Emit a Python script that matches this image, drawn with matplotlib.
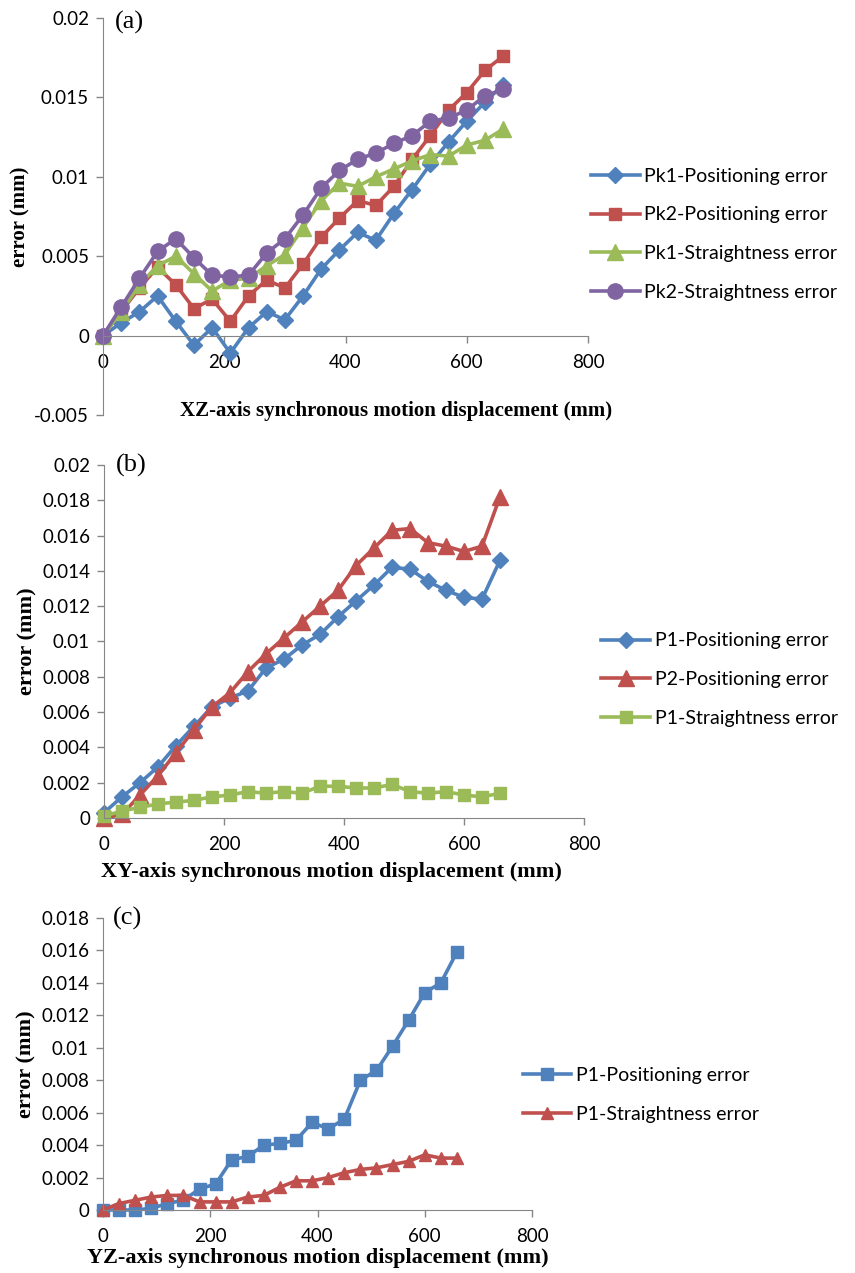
import matplotlib
matplotlib.use('Agg')
import matplotlib.pyplot as plt
from matplotlib.ticker import FixedLocator, FuncFormatter

# displacement steps (mm), shared by all three panels
disp = [0, 30, 60, 90, 120, 150, 180, 210, 240, 270, 300, 330,
        360, 390, 420, 450, 480, 510, 540, 570, 600, 630, 660]

# (a) XZ-axis
pk1_pos = [0, 0.0008, 0.0015, 0.0025, 0.0009, -0.0006, 0.0005, -0.0011, 0.0005, 0.0015, 0.001, 0.0025,
           0.0042, 0.0054, 0.0065, 0.006, 0.0077, 0.0092, 0.0108, 0.0122, 0.0135, 0.0147, 0.0158]
pk2_pos = [0, 0.0015, 0.003, 0.0043, 0.0032, 0.0017, 0.0023, 0.0009, 0.0025, 0.0035, 0.003, 0.0045,
           0.0062, 0.0074, 0.0085, 0.0082, 0.0094, 0.0111, 0.0126, 0.0142, 0.0153, 0.0167, 0.0176]
pk1_str = [0, 0.0015, 0.0032, 0.0044, 0.005, 0.0039, 0.0028, 0.0035, 0.0036, 0.0044, 0.0051, 0.0068,
           0.0085, 0.0096, 0.0094, 0.01, 0.0105, 0.011, 0.0114, 0.0113, 0.012, 0.0123, 0.013]
pk2_str = [0, 0.0018, 0.0036, 0.0053, 0.0061, 0.0049, 0.0038, 0.0037, 0.0038, 0.0052, 0.0061, 0.0076,
           0.0093, 0.0104, 0.0111, 0.0115, 0.0121, 0.0126, 0.0135, 0.0137, 0.0142, 0.0151, 0.0155]

# (b) XY-axis
xy_p1_pos = [0.0003, 0.0012, 0.002, 0.0029, 0.0041, 0.0052, 0.0063, 0.0068, 0.0072, 0.0085, 0.009, 0.0098,
             0.0104, 0.0114, 0.0123, 0.0132, 0.0142, 0.0141, 0.0134, 0.0129, 0.0125, 0.0124, 0.0146]
xy_p2_pos = [0, 0.0002, 0.0013, 0.0024, 0.0037, 0.005, 0.0063, 0.0071, 0.0083, 0.0093, 0.0102, 0.0111,
             0.012, 0.0129, 0.0143, 0.0153, 0.0163, 0.0164, 0.0156, 0.0154, 0.0151, 0.0154, 0.0182]
xy_p1_str = [0.0001, 0.0004, 0.0006, 0.0008, 0.0009, 0.001, 0.0012, 0.0013, 0.0015, 0.0014, 0.0015, 0.0014,
             0.0018, 0.0018, 0.0017, 0.0017, 0.0019, 0.0015, 0.0014, 0.0015, 0.0013, 0.0012, 0.0014]

# (c) YZ-axis
yz_p1_pos = [0, 0, 0, 0.0001, 0.0004, 0.0006, 0.0013, 0.0016, 0.0031, 0.0033, 0.004, 0.0041,
             0.0043, 0.0054, 0.005, 0.0056, 0.008, 0.0086, 0.0101, 0.0117, 0.0134, 0.014, 0.0159]
yz_p1_str = [0, 0.0004, 0.0006, 0.0008, 0.0009, 0.0009, 0.0005, 0.0005, 0.0005, 0.0008, 0.0009, 0.0014,
             0.0018, 0.0018, 0.002, 0.0023, 0.0025, 0.0026, 0.0028, 0.003, 0.0034, 0.0032, 0.0032]

BLUE = '#4F81BD'
RED = '#C0504D'
GREEN = '#9BBB59'
PURPLE = '#8064A2'
AXIS_GREY = '#868686'

SANS = 'Lato'
SERIF = 'Liberation Serif'
W, H = 855, 1273


def style_axes(ax, yticks, tag, tag_y, label_size):
    for s in ('top', 'right'):
        ax.spines[s].set_visible(False)
    ax.spines['left'].set_color(AXIS_GREY)
    ax.spines['bottom'].set_color(AXIS_GREY)
    ax.spines['bottom'].set_position(('data', 0))
    ax.set_xlim(0, 800)
    ax.set_ylim(yticks[0], yticks[-1])
    ax.xaxis.set_major_locator(FixedLocator([0, 200, 400, 600, 800]))
    ax.yaxis.set_major_locator(FixedLocator(yticks))
    ax.yaxis.set_major_formatter(FuncFormatter(lambda v, p: '%g' % round(v, 6)))
    ax.tick_params(axis='both', direction='out', length=5, width=1, color=AXIS_GREY, labelsize=13.5)
    ax.tick_params(axis='x', pad=8)
    ax.tick_params(axis='y', pad=5)
    for lab in ax.get_xticklabels() + ax.get_yticklabels():
        lab.set_fontfamily(SANS)
    ax.set_ylabel('error (mm)', fontfamily=SERIF, fontweight='bold', fontsize=label_size, labelpad=3)
    ax.text(0.024, tag_y, tag, transform=ax.transAxes, fontfamily=SERIF, fontsize=19,
            va='center', ha='left')


def series(ax, y, color, marker, ms, label):
    ax.plot(disp, y, color=color, lw=2.6, marker=marker, ms=ms, label=label, clip_on=False)


def legend(ax, x, y):
    ax.legend(loc='center left', bbox_to_anchor=(x, y), frameon=False,
              prop={'family': SANS, 'size': 14}, handlelength=2.5, labelspacing=1.12,
              handletextpad=0.25, borderaxespad=0)


def xlabel(text, cx, cy, size):
    fig.text(cx / W, 1 - cy / H, text, fontfamily=SERIF, fontweight='bold', fontsize=size,
             ha='center', va='center')


fig = plt.figure(figsize=(W / 100, H / 100), dpi=100)

# (a)
ax_a = fig.add_axes([103 / W, 1 - 415 / H, 485 / W, 397 / H])
series(ax_a, pk1_pos, BLUE, 'D', 8, 'Pk1-Positioning error')
series(ax_a, pk2_pos, RED, 's', 9, 'Pk2-Positioning error')
series(ax_a, pk1_str, GREEN, '^', 11, 'Pk1-Straightness error')
series(ax_a, pk2_str, PURPLE, 'o', 11, 'Pk2-Straightness error')
style_axes(ax_a, [-0.005, 0, 0.005, 0.01, 0.015, 0.02], '(a)', 0.99, 15)
xlabel('XZ-axis synchronous motion displacement (mm)', 396, 411, 15)
legend(ax_a, 0.99, 0.455)

# (b)
ax_b = fig.add_axes([104 / W, 1 - 818 / H, 480 / W, 353 / H])
series(ax_b, xy_p1_pos, BLUE, 'D', 8, 'P1-Positioning error')
series(ax_b, xy_p2_pos, RED, '^', 11, 'P2-Positioning error')
series(ax_b, xy_p1_str, GREEN, 's', 9, 'P1-Straightness error')
style_axes(ax_b, [0, 0.002, 0.004, 0.006, 0.008, 0.01, 0.012, 0.014, 0.016, 0.018, 0.02], '(b)', 1.0, 16)
xlabel('XY-axis synchronous motion displacement (mm)', 331, 872, 16)
legend(ax_b, 1.02, 0.392)

# (c)
ax_c = fig.add_axes([103 / W, 1 - 1210 / H, 429 / W, 292 / H])
series(ax_c, yz_p1_pos, BLUE, 's', 9, 'P1-Positioning error')
series(ax_c, yz_p1_str, RED, '^', 9, 'P1-Straightness error')
style_axes(ax_c, [0, 0.002, 0.004, 0.006, 0.008, 0.01, 0.012, 0.014, 0.016, 0.018], '(c)', 1.0, 16)
xlabel('YZ-axis synchronous motion displacement (mm)', 318, 1258, 16)
legend(ax_c, 0.96, 0.394)

fig.savefig('out.png', dpi=100)
